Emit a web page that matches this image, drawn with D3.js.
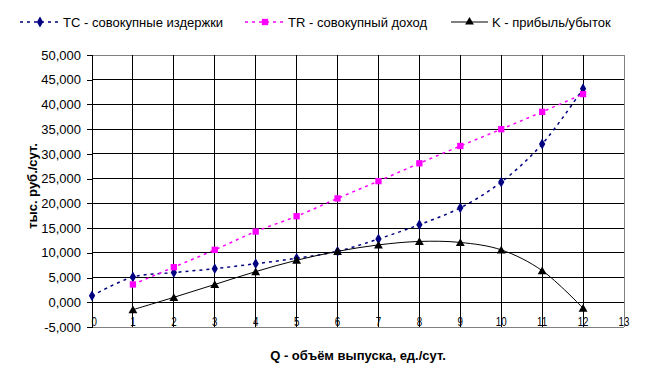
<!DOCTYPE html>
<html><head><meta charset="utf-8">
<script src="https://cdn.jsdelivr.net/npm/d3@7"></script>
<style>body{margin:0;background:#fff}svg{display:block;font-family:"Liberation Sans",Arial,sans-serif}</style>
</head><body><svg id="c" width="658" height="375"></svg>
<script>
const Q = [0,1,2,3,4,5,6,7,8,9,10,11,12];
const TC = [1300,5100,6000,6800,7800,8900,10300,12800,15700,19100,24300,32000,43200];
const TRq = [1,2,3,4,5,6,7,8,9,10,11,12];
const TR = [3600,7100,10600,14300,17400,21000,24500,28100,31600,35000,38500,42100];
const Kq = [1,2,3,4,5,6,7,8,9,10,11,12];
const K = [-1500,1000,3600,6200,8500,10300,11600,12300,12100,10600,6400,-1200];
const yTickVals = [-5000,0,5000,10000,15000,20000,25000,30000,35000,40000,45000,50000];
const yTickLabels = ["-5,000","0,000","5,000","10,000","15,000","20,000","25,000","30,000","35,000","40,000","45,000","50,000"];
const xTicks = [0,1,2,3,4,5,6,7,8,9,10,11,12,13];
const legendLabels = ["TC - совокупные издержки","TR - совокупный доход","K - прибыль/убыток"];

const svg = d3.select("#c");
const L=92,R=624,T=55,B=327;
const x = d3.scaleLinear().domain([0,13]).range([L,R]);
const y = d3.scaleLinear().domain([-5000,50000]).range([B,T]);

// horizontal gridlines
svg.append("g").selectAll("line").data(yTickVals).join("line")
  .attr("x1",L).attr("x2",R).attr("y1",d=>y(d)).attr("y2",d=>y(d))
  .attr("stroke",(d)=> (d===50000||d===-5000)?"#808080":"#000").attr("stroke-width",1)
  .attr("shape-rendering","crispEdges");
// vertical gridlines
svg.append("g").selectAll("line").data(xTicks.filter(d=>d>0)).join("line")
  .attr("x1",d=>x(d)).attr("x2",d=>x(d)).attr("y1",T).attr("y2",B)
  .attr("stroke",d=>d===13?"#808080":"#000").attr("stroke-width",1)
  .attr("shape-rendering","crispEdges");
// y axis
const yAxis = d3.axisLeft(y).tickValues(yTickVals).tickSize(5).tickPadding(6)
  .tickFormat((d,i)=>yTickLabels[i]);
const ga = svg.append("g").attr("transform",`translate(${L},0)`).call(yAxis);
ga.select(".domain").attr("stroke","#000").attr("shape-rendering","crispEdges");
ga.selectAll(".tick line").attr("stroke","#000").attr("shape-rendering","crispEdges");
ga.selectAll("text").attr("font-size",13).attr("font-family","Liberation Sans, Arial").attr("fill","#000");

// x tick labels
svg.append("g").selectAll("text").data(xTicks).join("text")
  .attr("x",d=>x(d)+ (d===0?3:0)).attr("y",326)
  .attr("text-anchor","middle").attr("font-size",13)
  .attr("transform",d=>`translate(${x(d)},0) scale(0.75,1) translate(${-x(d)},0)`)
  .text(d=>d);

const curve = d3.curveCatmullRom.alpha(0.5);
function series(xs, ys, color, dash, width){
  const line = d3.line().x((d,i)=>x(xs[i])).y(d=>y(d)).curve(curve);
  svg.append("path").datum(ys).attr("d",line).attr("fill","none")
    .attr("stroke",color).attr("stroke-width",width).attr("stroke-dasharray",dash);
}
series(Q,TC,"#000080","3,4",1.5);
series(TRq,TR,"#ff00ff","3,4",1.5);
series(Kq,K,"#000","",1);

const sym = {
  diamond: d3.symbol().type(d3.symbolDiamond).size(34),
  square: d3.symbol().type(d3.symbolSquare).size(40),
  tri: d3.symbol().type(d3.symbolTriangle).size(34)
};
svg.append("g").selectAll("path").data(TC).join("path")
  .attr("transform",(d,i)=>`translate(${x(Q[i])},${y(d)})`).attr("d",sym.diamond()).attr("fill","#000080");
svg.append("g").selectAll("path").data(TR).join("path")
  .attr("transform",(d,i)=>`translate(${x(TRq[i])},${y(d)})`).attr("d",sym.square()).attr("fill","#ff00ff");
svg.append("g").selectAll("path").data(K).join("path")
  .attr("transform",(d,i)=>`translate(${x(Kq[i])},${y(d)+1})`).attr("d",sym.tri()).attr("fill","#000");

// axis titles
svg.append("text").attr("x",358).attr("y",360).attr("text-anchor","middle")
  .attr("font-size",13).attr("font-weight","bold").text("Q - объём выпуска, ед./сут.");
svg.append("text").attr("transform","translate(37,186) rotate(-90)").attr("text-anchor","middle")
  .attr("font-size",13).attr("font-weight","bold").text("тыс. руб./сут.");

// legend
const leg = [
  {x0:20,x1:60,c:"#000080",dash:"3,4",s:sym.diamond,tx:63,label:legendLabels[0]},
  {x0:245,x1:285,c:"#ff00ff",dash:"3,4",s:sym.square,tx:288,label:legendLabels[1]},
  {x0:451,x1:488,c:"#000",dash:"",s:sym.tri,tx:492,label:legendLabels[2]}
];
const lg = svg.append("g");
leg.forEach(d=>{
  lg.append("line").attr("x1",d.x0).attr("x2",d.x1).attr("y1",22).attr("y2",22)
    .attr("stroke",d.c).attr("stroke-width",d.dash?1.5:1).attr("stroke-dasharray",d.dash);
  lg.append("path").attr("transform",`translate(${(d.x0+d.x1)/2},22)`).attr("d",d.s()).attr("fill",d.c);
  lg.append("text").attr("x",d.tx).attr("y",27).attr("font-size",13).text(d.label);
});
</script></body></html>
